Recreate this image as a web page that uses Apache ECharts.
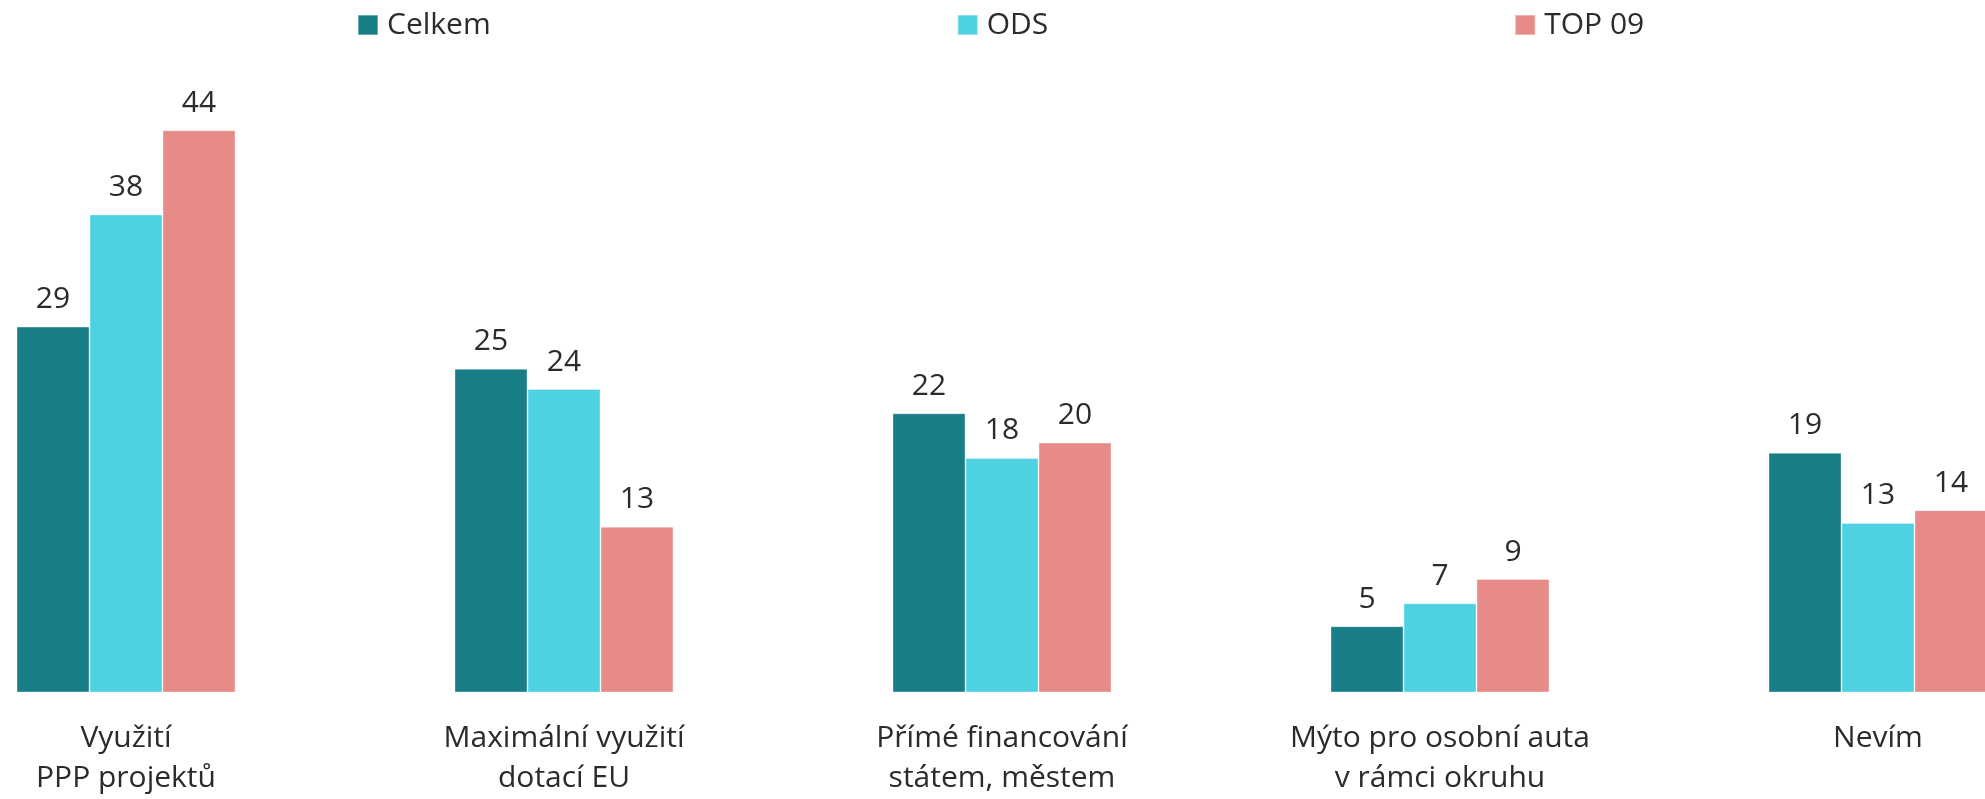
<!DOCTYPE html>
<html>
<head>
<meta charset="utf-8">
<script src="https://cdn.jsdelivr.net/npm/echarts@6/dist/echarts.min.js"></script>
<style>
  html, body { margin: 0; padding: 0; background: #fff; overflow: hidden; width: 1985px; height: 799px; position: relative; }
  /* plot is wider than the window: the outer groups are cut like in the original */
  #main { position: absolute; left: -93px; top: 0; width: 2190px; height: 799px; }
</style>
</head>
<body>
<div id="main"></div>
<script>
var chartDom = document.getElementById('main');
var myChart = echarts.init(chartDom);
var option;

var categories = [
    'Využití\nPPP projektů',
    'Maximální využití\ndotací EU',
    'Přímé financování\nstátem, městem',
    'Mýto pro osobní auta\nv rámci okruhu',
    'Nevím'
];
// bar heights, labels show them rounded
var celkem = [28.7, 25.4, 21.9, 5.2, 18.8];
var ods = [37.5, 23.8, 18.4, 7.0, 13.3];
var top09 = [44.1, 13.0, 19.6, 8.9, 14.3];

var fontFamily = '"Open Sans", "Noto Sans", sans-serif';
var textColor = '#2b2b2b';

function barSeries(name, data, color) {
    return {
        name: name,
        type: 'bar',
        data: data,
        barGap: 0,
        barCategoryGap: '50%',
        itemStyle: {
            color: color,
            borderColor: 'rgba(255,255,255,0.35)',
            borderWidth: 1
        },
        label: {
            show: true,
            position: 'top',
            distance: 12,
            fontSize: 30,
            fontFamily: fontFamily,
            color: textColor,
            formatter: function (p) {
                return Math.round(p.value);
            }
        }
    };
}

option = {
    animation: false,
    legend: {
        left: 450,
        top: 10,
        padding: 0,
        itemGap: 466,
        itemWidth: 20,
        itemHeight: 20,
        icon: 'rect',
        textStyle: {
            fontSize: 30,
            fontFamily: fontFamily,
            color: textColor,
            padding: [0, 0, 0, 4]
        }
    },
    grid: {
        left: 0,
        right: 0,
        top: 55,
        bottom: 106.5
    },
    xAxis: {
        type: 'category',
        data: categories,
        axisLine: { show: false },
        axisTick: { show: false },
        axisLabel: {
            margin: 26,
            fontSize: 30,
            lineHeight: 40,
            fontFamily: fontFamily,
            color: textColor,
            interval: 0
        }
    },
    yAxis: {
        type: 'value',
        min: 0,
        max: 50,
        show: false,
        splitLine: { show: false }
    },
    series: [
        barSeries('Celkem', celkem, '#187d87'),
        barSeries('ODS', ods, '#4ed1e0'),
        barSeries('TOP 09', top09, '#e68b88')
    ]
};

option && myChart.setOption(option);
</script>
</body>
</html>
